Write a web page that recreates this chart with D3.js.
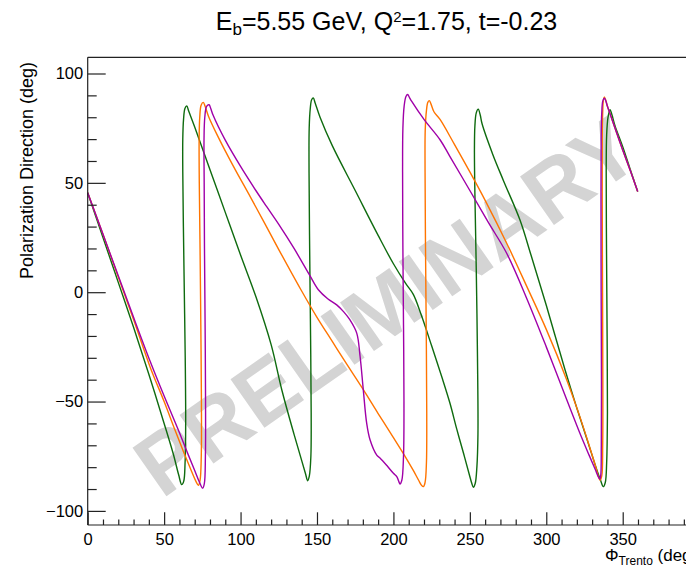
<!DOCTYPE html>
<html>
<head>
<meta charset="utf-8">
<script src="https://cdn.jsdelivr.net/npm/d3@7"></script>
<style>
  html, body { margin: 0; padding: 0; background: #fff; }
  svg { display: block; font-family: "Liberation Sans", Arial, Helvetica, sans-serif; }
</style>
</head>
<body>
<svg id="chart" width="686" height="565"></svg>
<script>
// ---------------- data ----------------
const xMajorTicks = [0, 50, 100, 150, 200, 250, 300, 350];
const yMajorTicks = [-100, -50, 0, 50, 100];
const titleParts = ["E", "b", "=5.55 GeV, Q", "2", "=1.75, t=-0.23"];
const seriesNames = ["green", "orange", "purple"];
const seriesColors = ["#0f6b0f", "#ff7400", "#a000a8"];

// [Phi_Trento (deg), polarization direction (deg)]
const greenPts = [
  [0,45.5],[10,25],[20,4.5],[30,-16],[40,-37.5],[50,-60],[56,-74],[59.5,-83.5],[61.5,-88],
  [62.8,-86.5],[63.7,-78],[64.1,-60],[63.8,-30],[63.2,0],[62.6,30],[62.2,55],[62.2,70],[62.7,79],[63.6,84],[64.8,85.2],[66,83],
  [70,75.5],[80,56],[90,36.5],[100,17],[110,-2],[120,-24],[127,-44.7],[135,-65],[140,-77],[142.5,-83],[143.9,-86.2],
  [145,-84],[146,-75],[146.2,-55],[145.8,-20],[145.2,20],[144.8,55],[144.9,75],[145.6,84],[146.5,88],[147.6,88.8],[148.8,86.5],
  [152,80],[160,67],[175,46.5],[190,26],[200,13],[208,4],[213,-1],[218,-10],[225,-24.5],[232,-39.5],[237,-50.8],
  [241.4,-62.5],[246,-74],[249.5,-83],[251.3,-87.5],[252.3,-89.2],
  [253.5,-87.5],[254.6,-80],[255.3,-65],[255,-30],[254.2,10],[253.3,45],[253,65],[253.3,76],[254.2,82],[255.5,83.7],[256.8,81],
  [258,77],[265,63],[272,51],[282.8,33],[290,17],[300,-6],[312.3,-35.6],[320,-53],[327,-68],[332,-79],[335.5,-86],[337.3,-88.9],
  [338.6,-87],[339.5,-78],[340,-55],[339.8,-20],[339.4,20],[339.2,55],[339.5,72],[340.4,80],[341.7,83.5],[343,81],
  [345,76],[350,66.5],[355,56],[359.8,46]
];
const orangePts = [
  [0,45.5],[10,26.5],[20,7],[30,-12.5],[41,-34.5],[50,-50],[57.1,-63],[63,-73.5],[68,-82],[70.8,-86.5],[72.4,-88.3],
  [73.5,-86],[74.3,-75],[74.4,-50],[74,-15],[73.5,20],[73,50],[72.9,70],[73.3,80],[74.2,85.5],[75.6,86.8],[76.8,85],
  [79,80.5],[85,71.5],[95,58],[106.3,43.7],[115,32.5],[125,19.5],[139.6,1],[150,-11.5],[160,-22.5],[170,-33.5],[180.3,-44.6],
  [190,-55.5],[200,-66.5],[208,-75.5],[213,-81.5],[216.5,-86],[218.3,-88.2],[219.6,-88.9],
  [220.7,-87],[221.6,-78],[221.8,-55],[221.5,-20],[221,20],[220.7,55],[220.8,74],[221.6,83],[222.5,86.8],[223.5,87.6],[224.6,86],
  [226.5,82.5],[230.5,79],[240,67.5],[250,55],[260,42],[274.1,22.4],[287,3],[300,-17],[313.4,-40.1],[322,-57],[328,-70],
  [332,-79],[334.2,-84.5],[335.2,-86],
  [336.3,-84],[336.9,-70],[337,-40],[336.8,0],[336.6,40],[336.6,70],[336.9,82],[337.4,88],[338,89.3],[338.8,88],
  [340,85],[342,81],[345,75],[350,65],[355,55.5],[359.8,46]
];
const purplePts = [
  [0,45.5],[10,26.5],[20,7.5],[30,-11.5],[40.9,-31.7],[50,-47.5],[59.3,-63],[65,-73],[70,-81.5],[73.2,-87],[75.2,-89.6],
  [76.3,-87.5],[77,-75],[77.1,-50],[76.8,-15],[76.4,20],[76.2,50],[76.1,70],[76.6,80],[77.8,85],[79.4,85.7],[80.5,84],
  [82,81],[90,69.5],[100,57.5],[110,46.5],[117.1,39.1],[125,31],[135,20],[145,8],[150.9,1.1],[157,-3],[162.9,-5.8],
  [167.5,-9],[171.6,-12.7],[176,-18.7],[178.2,-29.4],[180.3,-44.7],[182.5,-59.9],[184.7,-67.5],[189.1,-74.5],[191.2,-75.8],
  [196,-79.5],[200,-82.8],[202.2,-84.3],[203.5,-86.5],[204.3,-87.7],
  [205.5,-86],[206.6,-75],[206.9,-50],[206.6,-15],[206.2,20],[206,55],[206.2,75],[207,85],[208.2,89.5],[209.3,90.4],[210.5,89],
  [212,87.2],[220,79],[230.6,69.6],[237,62],[250,46.5],[262,32],[274.1,17.8],[287,-2.5],[300,-25],[313.4,-49.2],
  [322,-64.5],[328,-74.5],[332,-81],[334,-84.3],[335,-85.5],
  [335.6,-84],[336,-70],[336.1,-40],[335.9,0],[335.8,40],[335.9,70],[336.3,82],[337,87.5],[338,88.7],[338.8,87.8],
  [340,85],[342,81],[345,75],[350,65],[355,55.5],[359.8,46]
];
const seriesData = [greenPts, orangePts, purplePts];

// ---------------- layout ----------------
const svg = d3.select("#chart");
const W = 686, H = 565;
const x = d3.scaleLinear().domain([0, 400]).range([87.7, 87.7 + 400 * 1.5286]);
const y = d3.scaleLinear().domain([-100, 100]).range([510.9, 73.5]);
const yTop = y.invert(57.3), yBot = y.invert(525);
const frameLeft = x(0), frameRight = x(400), frameTop = y(yTop), frameBot = y(yBot);

// watermark
svg.append("text")
  .attr("x", 386).attr("y", 306)
  .attr("transform", "rotate(-35 386 306)")
  .attr("text-anchor", "middle")
  .attr("dominant-baseline", "central")
  .attr("font-size", 86)
  .attr("font-weight", "bold")
  .attr("fill", "#d4d4d4")
  .text("PRELIMINARY");

// curves
const line = d3.line()
  .x(d => x(d[0])).y(d => y(d[1]))
  .curve(d3.curveCatmullRom.alpha(0.5));
svg.append("g").selectAll("path")
  .data(seriesData)
  .join("path")
  .attr("d", d => line(d))
  .attr("fill", "none")
  .attr("stroke", (d, i) => seriesColors[i])
  .attr("stroke-width", 1.4);

// frame lines
const frame = svg.append("g").attr("stroke", "#222").attr("stroke-width", 1.2);
frame.append("line").attr("x1", frameLeft).attr("x2", frameRight).attr("y1", frameTop).attr("y2", frameTop);
frame.append("line").attr("x1", frameLeft).attr("x2", frameLeft).attr("y1", frameTop).attr("y2", frameBot);
frame.append("line").attr("x1", frameLeft).attr("x2", frameRight).attr("y1", frameBot).attr("y2", frameBot);

// X axis
const xMinor = d3.range(0, 401, 10).filter(v => !xMajorTicks.includes(v) && v !== 400);
const gx = svg.append("g").attr("transform", `translate(0,${frameBot})`);
gx.call(d3.axisBottom(x).tickValues(xMajorTicks).tickSize(-12.7).tickSizeOuter(0).tickPadding(8).tickFormat(d3.format("d")));
const gxm = svg.append("g").attr("transform", `translate(0,${frameBot})`);
gxm.call(d3.axisBottom(x).tickValues(xMinor).tickSize(-5.5).tickSizeOuter(0).tickFormat(""));

// Y axis
const yMinor = d3.range(-100, 101, 10).filter(v => !yMajorTicks.includes(v));
const gy = svg.append("g").attr("transform", `translate(${frameLeft},0)`);
gy.call(d3.axisLeft(y).tickValues(yMajorTicks).tickSize(-18).tickSizeOuter(0).tickPadding(4.5).tickFormat(d3.format("d")));
const gym = svg.append("g").attr("transform", `translate(${frameLeft},0)`);
gym.call(d3.axisLeft(y).tickValues(yMinor).tickSize(-9).tickSizeOuter(0).tickFormat(""));

[gx, gxm, gy, gym].forEach(g => {
  g.select(".domain").remove();
  g.selectAll(".tick line").attr("stroke", "#222").attr("stroke-width", 1.2);
  g.selectAll(".tick text").attr("font-size", 16.5).attr("fill", "#000")
    .attr("font-family", "Liberation Sans, Arial, sans-serif");
});

// title
const title = svg.append("text").attr("x", 386.5).attr("y", 30)
  .attr("text-anchor", "middle").attr("font-size", 25).attr("fill", "#000");
title.append("tspan").text(titleParts[0]);
title.append("tspan").attr("dy", 5).attr("font-size", 17).text(titleParts[1]);
title.append("tspan").attr("dy", -5).text(titleParts[2]);
title.append("tspan").attr("dy", -8).attr("font-size", 15).text(titleParts[3]);
title.append("tspan").attr("dy", 8).text(titleParts[4]);

// Y title
svg.append("text")
  .attr("transform", "translate(32.5,62) rotate(-90)")
  .attr("text-anchor", "end").attr("font-size", 18).attr("fill", "#000")
  .text("Polarization Direction (deg)");

// X title (cut by the right edge, as in the reference)
const xt = svg.append("text").attr("x", 605).attr("y", 561)
  .attr("font-size", 17).attr("fill", "#000");
xt.append("tspan").text("Φ");
xt.append("tspan").attr("dy", 4).attr("font-size", 12).text("Trento");
xt.append("tspan").attr("dy", -4).text(" (deg)");
</script>
</body>
</html>
